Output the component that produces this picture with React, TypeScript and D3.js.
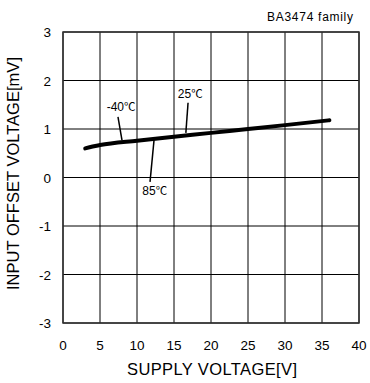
import React from 'react';
import * as d3 from 'd3';

// Supply voltage [V] vs input offset voltage [mV]
const supplyVoltage = [3, 4, 5, 10, 15, 20, 25, 30, 36];
const offsetVoltage = [0.6, 0.64, 0.67, 0.76, 0.84, 0.92, 1.0, 1.08, 1.18];
const xTicks = [0, 5, 10, 15, 20, 25, 30, 35, 40];
const yTicks = [-3, -2, -1, 0, 1, 2, 3];

// temperature labels: [value, label x(V), label y(mV), leader from (V,mV), leader to (V,mV)]
const tempLabels: [string, number, number, number, number, number, number][] = [
  ['-40', 7.85, 1.38, 7.43, 1.25, 7.97, 0.77],
  ['25', 17.2, 1.64, 16.9, 1.54, 16.6, 0.92],
  ['85', 12.4, -0.36, 12.3, 0.77, 11.76, -0.09],
];

const W = 370;
const H = 383;
const margin = { left: 63, right: 11, top: 32, bottom: 60 };

export default function App() {
  const x = d3.scaleLinear().domain([0, 40]).range([margin.left, W - margin.right]);
  const y = d3.scaleLinear().domain([-3, 3]).range([H - margin.bottom, margin.top]);

  const line = d3
    .line<number>()
    .x((_, i) => x(supplyVoltage[i]))
    .y(d => y(d))
    .curve(d3.curveMonotoneX);

  const font = 'Liberation Sans, Arial, sans-serif';

  return (
    <svg
      width={W}
      height={H}
      style={{ position: 'absolute', left: 0, top: 0, background: '#fff' }}
      fontFamily={font}
    >
      <rect x={0} y={0} width={W} height={H} fill="#fff" />
      {/* grid */}
      {xTicks.map(t => (
        <line key={'gx' + t} x1={x(t)} x2={x(t)} y1={y(-3)} y2={y(3)} stroke="#000" strokeWidth={1} />
      ))}
      {yTicks.map(t => (
        <line key={'gy' + t} x1={x(0)} x2={x(40)} y1={y(t)} y2={y(t)} stroke="#000" strokeWidth={1} />
      ))}
      <rect
        x={x(0)}
        y={y(3)}
        width={x(40) - x(0)}
        height={y(-3) - y(3)}
        fill="none"
        stroke="#333"
        strokeWidth={1.5}
      />
      {/* tick labels */}
      {xTicks.map(t => (
        <text key={'tx' + t} x={x(t)} y={y(-3) + 27} textAnchor="middle" fontSize={13.5}>
          {t}
        </text>
      ))}
      {yTicks.map(t => (
        <text key={'ty' + t} x={x(0) - 12} y={y(t) + 5} textAnchor="end" fontSize={13.5}>
          {t}
        </text>
      ))}
      {/* axis titles */}
      <text x={212} y={H - 8} textAnchor="middle" fontSize={16.5} textLength={170} lengthAdjust="spacing">
        SUPPLY VOLTAGE[V]
      </text>
      <text
        transform={`translate(18.5,173.5) rotate(-90)`}
        textAnchor="middle"
        fontSize={16.5}
        textLength={233}
        lengthAdjust="spacing"
      >
        INPUT OFFSET VOLTAGE[mV]
      </text>
      <text x={353} y={20.5} textAnchor="end" fontSize={12} textLength={86} lengthAdjust="spacing">
        BA3474 family
      </text>
      {/* data */}
      <path d={line(offsetVoltage) || ''} fill="none" stroke="#000" strokeWidth={4} strokeLinecap="round" />
      {tempLabels.map(([label, lx, ly, x1, y1, x2, y2]) => (
        <g key={label}>
          <line x1={x(x1)} y1={y(y1)} x2={x(x2)} y2={y(y2)} stroke="#000" strokeWidth={1.5} />
          <text x={x(lx)} y={y(ly)} textAnchor="middle" fontSize={12}>
            {label}
            <tspan fontFamily="Noto Sans CJK JP" fontSize={11.5}>
              ℃
            </tspan>
          </text>
        </g>
      ))}
    </svg>
  );
}
